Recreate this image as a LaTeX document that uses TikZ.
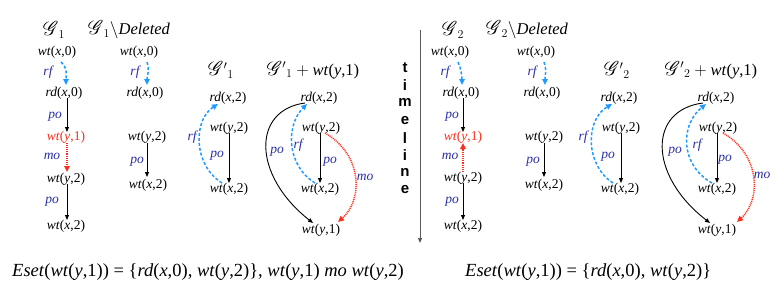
\documentclass[tikz,border=0pt]{standalone}
\usepackage{fontspec}
\setmainfont{Liberation Serif}
\newfontfamily\tlfont{Liberation Sans}
\usepackage{mathrsfs}
\usetikzlibrary{arrows.meta}
\definecolor{lblblue}{RGB}{40,45,165}
\definecolor{rfblue}{RGB}{30,155,255}
\definecolor{mored}{RGB}{255,45,25}
\newcommand\evW[2]{\textit{wt}(\textit{#1},#2)}
\newcommand\evR[2]{\textit{rd}(\textit{#1},#2)}
\newcommand\evfnt{\fontsize{13.5}{15}\selectfont}
\newcommand\ttlfnt{\fontsize{16.5}{18}\selectfont}
\newcommand\botfnt{\fontsize{18.5}{21}\selectfont}
\newcommand\scrG{\scalebox{1.15}{$\mathscr{G}$}}
\tikzset{
  ev/.style={inner sep=1pt, font=\evfnt},
  evred/.style={ev, text=mored},
  ttl/.style={inner sep=0pt, font=\ttlfnt},
  lbl/.style={inner sep=0pt, text=lblblue, font=\evfnt\itshape},
  tl/.style={inner sep=0pt, font=\tlfont\bfseries\fontsize{15}{16}\selectfont},
  rfa/.style={draw=rfblue, line width=1.5pt, dash pattern=on 3pt off 2pt, -{Triangle[length=6pt,width=5.5pt]}},
  poa/.style={draw=black, line width=0.9pt, -{Triangle[length=5pt,width=4pt]}},
  moa/.style={draw=mored, line width=1.5pt, dash pattern=on 1pt off 0.9pt, -{Triangle[length=6pt,width=5.5pt]}},
}
\begin{document}
\begin{tikzpicture}[x=1pt,y=-1pt]
\useasboundingbox (0,0) rectangle (779,289);
% ---------------- G1 ----------------
\node[ttl] (t1) at (54,30) {\scrG$_1$};
\node[ev] (a1) at (57,52) {\evW{x}{0}};
\node[ev] (b1) at (64,93) {\evR{x}{0}};
\node[evred] (c1) at (66,137) {\evW{y}{1}};
\node[ev] (d1) at (66,179) {\evW{y}{2}};
\node[ev] (e1) at (66,226) {\evW{x}{2}};
\draw[rfa] ([shift={(4,10)}]a1.center) .. controls +(7,6) and +(0,-9) .. ([shift={(2,-8)}]b1.center);
\draw[poa] ([shift={(3,5)}]b1.center) -- ([shift={(1,-5)}]c1.center);
\draw[moa] ([shift={(1,6)}]c1.center) -- ([shift={(1,-7)}]d1.center);
\draw[poa] ([shift={(1,5)}]d1.center) -- ([shift={(1,-6)}]e1.center);
\node[lbl] (l1a) at (48,72) {rf};
\node[lbl] (l1b) at (55,117) {po};
\node[lbl] (l1c) at (52,156) {mo};
\node[lbl] (l1d) at (52,202) {po};
% ---------------- G1 \ Deleted ----------------
\node[ttl] (t1d) at (129,30) {\scrG$_1\backslash$\textit{Deleted}};
\node[ev] (a1d) at (139,52) {\evW{x}{0}};
\node[ev] (b1d) at (145,93) {\evR{x}{0}};
\node[ev] (c1d) at (147,137) {\evW{y}{2}};
\node[ev] (d1d) at (148,185) {\evW{x}{2}};
\draw[rfa] ([shift={(8,10)}]a1d.center) .. controls +(3,6) and +(0,-8) .. ([shift={(2,-8)}]b1d.center);
\draw[poa] ([shift={(0,6)}]c1d.center) -- ([shift={(-1,-8)}]d1d.center);
\node[lbl] (l1da) at (135,72) {rf};
\node[lbl] (l1db) at (137,162) {po};
% ---------------- G'1 ----------------
\node[ttl] (t1p) at (221,70) {\scrG$'{}_1$};
\node[ev] (p1) at (228,98) {\evR{x}{2}};
\node[ev] (q1) at (229,128) {\evW{y}{2}};
\node[ev] (r1) at (229,189) {\evW{x}{2}};
\draw[poa] ([shift={(0,5)}]q1.center) -- ([shift={(0,-6)}]r1.center);
\draw[rfa] ([shift={(-7,-6)}]r1.center) .. controls +(-29,-18) and +(-25,16) .. ([shift={(-10,6)}]p1.center);
\node[lbl] (l1pa) at (192,137) {rf};
\node[lbl] (l1pb) at (217,156) {po};
% ---------------- G'1 + wt(y,1) ----------------
\node[ttl] (t1pp) at (313,70) {\scrG$'{}_1+{}$\evW{y}{1}};
\node[ev] (p1p) at (319,98) {\evR{x}{2}};
\node[ev] (q1p) at (321,128) {\evW{y}{2}};
\node[ev] (r1p) at (320,189) {\evW{x}{2}};
\node[ev] (s1p) at (321,230) {\evW{y}{1}};
\draw[poa] ([shift={(-1,5)}]q1p.center) -- ([shift={(0,-6)}]r1p.center);
\draw[rfa] ([shift={(-5,-6)}]r1p.center) .. controls +(-29,-18) and +(-21,21) .. ([shift={(-12,6)}]p1p.center);
\draw[poa] ([shift={(-14,5)}]p1p.center) .. controls +(-53,7) and +(-61,-48) .. ([shift={(-8,-7)}]s1p.center);
\draw[moa] ([shift={(4,5)}]q1p.center) .. controls +(38,22) and +(25,-22) .. ([shift={(17,-8)}]s1p.center);
\node[lbl] (l1ppa) at (298,145) {rf};
\node[lbl] (l1ppb) at (277,152) {po};
\node[lbl] (l1ppc) at (330,162) {po};
\node[lbl] (l1ppd) at (365,177) {mo};
% ---------------- timeline ----------------
\coordinate (tls) at (420,30);
\coordinate (tle) at (420,243);
\draw[draw=black!65, line width=1pt, -{Triangle[length=5pt,width=4pt]}] (tls) -- (tle);
\foreach \ch [count=\i] in {t,i,m,e,l,i,n,e}
  \node[tl] (tl\i) at (405,{68+(\i-1)*17.4}) {\ch};
% ---------------- G2 ----------------
\node[ttl] (t2) at (453,30) {\scrG$_2$};
\node[ev] (a2) at (450,52) {\evW{x}{0}};
\node[ev] (b2) at (461,93) {\evR{x}{0}};
\node[evred] (c2) at (463,137) {\evW{y}{1}};
\node[ev] (d2) at (463,178) {\evW{y}{2}};
\node[ev] (e2) at (463,226) {\evW{x}{2}};
\draw[rfa] ([shift={(8,10)}]a2.center) .. controls +(3,6) and +(0,-8) .. ([shift={(1,-8)}]b2.center);
\draw[poa] ([shift={(2,5)}]b2.center) -- ([shift={(0,-5)}]c2.center);
\draw[moa] ([shift={(0,-6)}]d2.center) -- ([shift={(0,6)}]c2.center);
\draw[poa] ([shift={(0,5)}]d2.center) -- ([shift={(0,-6)}]e2.center);
\node[lbl] (l2a) at (445,72) {rf};
\node[lbl] (l2b) at (452,117) {po};
\node[lbl] (l2c) at (450,156) {mo};
\node[lbl] (l2d) at (452,202) {po};
% ---------------- G2 \ Deleted ----------------
\node[ttl] (t2d) at (527,30) {\scrG$_2\backslash$\textit{Deleted}};
\node[ev] (a2d) at (536,52) {\evW{x}{0}};
\node[ev] (b2d) at (542,93) {\evR{x}{0}};
\node[ev] (c2d) at (544,137) {\evW{y}{2}};
\node[ev] (d2d) at (544,185) {\evW{x}{2}};
\draw[rfa] ([shift={(8,10)}]a2d.center) .. controls +(3,6) and +(0,-8) .. ([shift={(3,-8)}]b2d.center);
\draw[poa] ([shift={(0,6)}]c2d.center) -- ([shift={(0,-8)}]d2d.center);
\node[lbl] (l2da) at (532,72) {rf};
\node[lbl] (l2db) at (533,162) {po};
% ---------------- G'2 ----------------
\node[ttl] (t2p) at (617,70) {\scrG$'{}_2$};
\node[ev] (p2) at (619,98) {\evR{x}{2}};
\node[ev] (q2) at (621,128) {\evW{y}{2}};
\node[ev] (r2) at (620,189) {\evW{x}{2}};
\draw[poa] ([shift={(0,5)}]q2.center) -- ([shift={(1,-6)}]r2.center);
\draw[rfa] ([shift={(-7,-6)}]r2.center) .. controls +(-28,-18) and +(-27,16) .. ([shift={(-7,6)}]p2.center);
\node[lbl] (l2pa) at (583,137) {rf};
\node[lbl] (l2pb) at (608,157) {po};
% ---------------- G'2 + wt(y,1) ----------------
\node[ttl] (t2pp) at (711,70) {\scrG$'{}_2+{}$\evW{y}{1}};
\node[ev] (p2p) at (716,98) {\evR{x}{2}};
\node[ev] (q2p) at (718,128) {\evW{y}{2}};
\node[ev] (r2p) at (717,189) {\evW{x}{2}};
\node[ev] (s2p) at (717,230) {\evW{y}{1}};
\draw[poa] ([shift={(-1,5)}]q2p.center) -- ([shift={(0,-6)}]r2p.center);
\draw[rfa] ([shift={(-5,-6)}]r2p.center) .. controls +(-32,-18) and +(-26,21) .. ([shift={(-10,6)}]p2p.center);
\draw[poa] ([shift={(-13,5)}]p2p.center) .. controls +(-55,7) and +(-62,-48) .. ([shift={(-7,-7)}]s2p.center);
\draw[moa] ([shift={(5,5)}]q2p.center) .. controls +(38,22) and +(24,-22) .. ([shift={(20,-8)}]s2p.center);
\node[lbl] (l2ppa) at (697,145) {rf};
\node[lbl] (l2ppb) at (675,152) {po};
\node[lbl] (l2ppc) at (725,160) {po};
\node[lbl] (l2ppd) at (762,175) {mo};
% ---------------- bottom formulas ----------------
\node[anchor=base west, inner sep=0pt, font=\botfnt] (eL) at (12,276)
  {\textit{Eset}(\evW{y}{1}) = \{\evR{x}{0}, \evW{y}{2}\}, \evW{y}{1} \textit{mo} \evW{y}{2}};
\node[anchor=base west, inner sep=0pt, font=\botfnt] (eR) at (465,276)
  {\textit{Eset}(\evW{y}{1}) = \{\evR{x}{0}, \evW{y}{2}\}};
\end{tikzpicture}
\end{document}
